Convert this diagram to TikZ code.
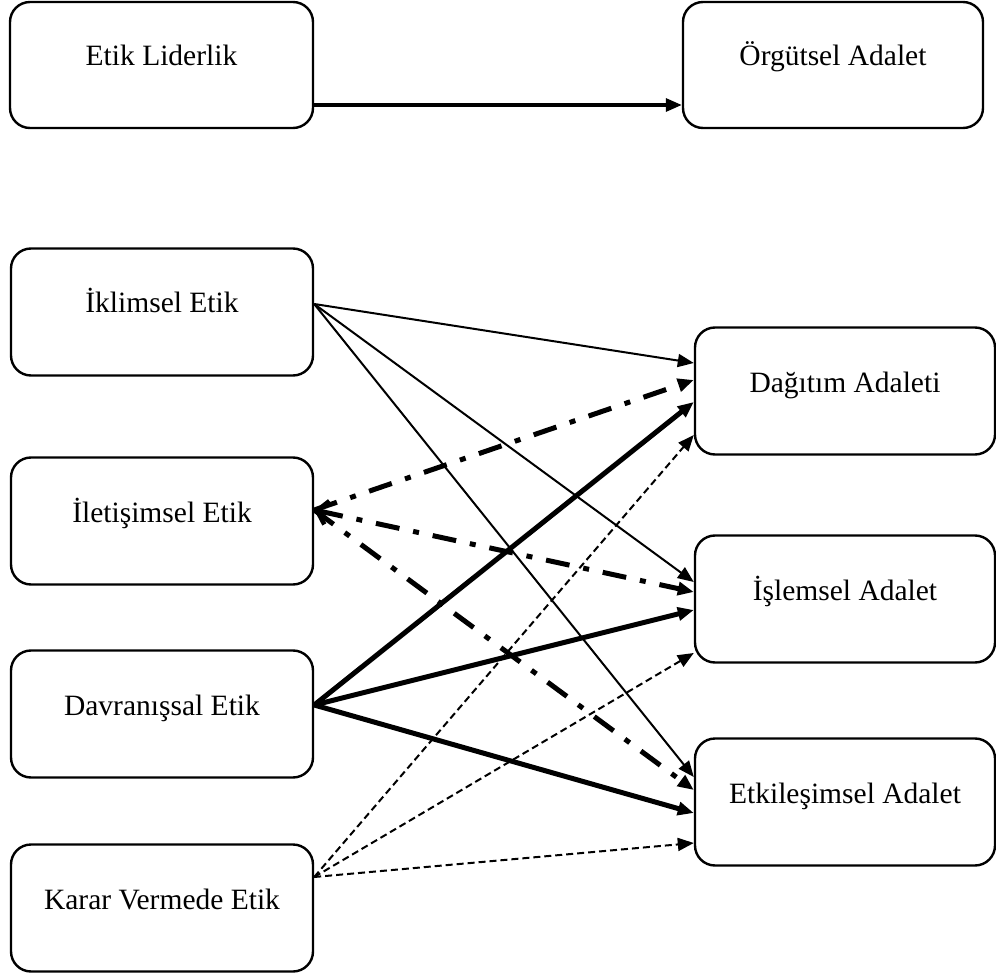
\documentclass[tikz,border=0pt]{standalone}
\usepackage{fontspec}
\setmainfont{Liberation Serif}
\usetikzlibrary{arrows.meta}
\tikzset{
  x=1pt, y=-1pt,
  box/.style={draw, line width=2.4pt, rounded corners=20pt, inner sep=0pt, minimum height=127pt},
  lbox/.style={box, minimum width=302pt},
  rbox/.style={box, minimum width=300pt},
  boxtext/.style={anchor=base, inner sep=0pt, font=\fontsize{29.5}{34}\selectfont},
  tip/.style={-{Triangle[length=16pt,width=13pt]}},
  thinarr/.style={tip, line width=2pt},
  thickarr/.style={tip, line width=5pt},
  dasharr/.style={tip, line width=2pt, dash pattern=on 7pt off 4pt},
  dotdasharr/.style={tip, line width=5pt, dash pattern=on 24pt off 14pt on 6pt off 14pt},
  mainarr/.style={tip, line width=3.2pt},
}
\begin{document}
\begin{tikzpicture}
\useasboundingbox (0,0) rectangle (996,973);
% top row
\node[box, minimum width=303pt, minimum height=126pt] (etik) at (161.5,65) {};
\node[box, minimum width=300pt, minimum height=126pt] (orgut) at (833,65) {};
\node[boxtext, yshift=-1pt] (etikt) at (etik.center) {Etik Liderlik};
\node[boxtext, yshift=-1pt] (orgutt) at (orgut.center) {Örgütsel Adalet};
% left column
\node[lbox] (ikl) at (162,312) {};
\node[lbox] (ilet) at (162,521) {};
\node[lbox] (davr) at (162,714) {};
\node[lbox] (karar) at (162,908) {};
\node[boxtext, yshift=-1pt] (iklt) at (ikl.center) {İklimsel Etik};
\node[boxtext, yshift=-1pt] (iletx) at (ilet.center) {İletişimsel Etik};
\node[boxtext, yshift=-1pt] (davrt) at (davr.center) {Davranışsal Etik};
\node[boxtext, yshift=-1pt] (karart) at (karar.center) {Karar Vermede Etik};
% right column
\node[rbox] (dag) at (845,391) {};
\node[rbox] (isl) at (845,599) {};
\node[rbox] (etk) at (845,802) {};
\node[boxtext, yshift=-1pt] (dagt) at (dag.center) {Dağıtım Adaleti};
\node[boxtext, yshift=-1pt] (islt) at (isl.center) {İşlemsel Adalet};
\node[boxtext, yshift=-1pt] (etkt) at (etk.center) {Etkileşimsel Adalet};
% top arrow
\draw[mainarr] ([yshift=-40pt]etik.east) -- ([yshift=-40pt]orgut.west);
% iklimsel (thin solid)
\draw[thinarr] ([yshift=8pt]ikl.east) -- ([yshift=28pt]dag.west);
\draw[thinarr] ([yshift=8pt]ikl.east) -- ([yshift=17pt]isl.west);
\draw[thinarr] ([yshift=8pt]ikl.east) -- ([yshift=25pt]etk.west);
% iletisimsel (thick dash-dot)
\draw[dotdasharr] ([yshift=11pt]ilet.east) -- ([yshift=11pt]dag.west);
\draw[dotdasharr, {Straight Barb[length=10pt,width=24pt,line width=4.5pt]}-{Triangle[length=16pt,width=13pt]}] ([yshift=11pt]ilet.east) -- ([yshift=7pt]isl.west);
\draw[dotdasharr] ([yshift=11pt]ilet.east) -- ([yshift=12pt]etk.west);
% davranissal (thick solid)
\draw[thickarr] ([yshift=9pt]davr.east) -- ([yshift=-11pt]dag.west);
\draw[thickarr] ([yshift=9pt]davr.east) -- ([yshift=-11pt]isl.west);
\draw[thickarr] ([yshift=9pt]davr.east) -- ([yshift=-11pt]etk.west);
% karar vermede (thin dashed)
\draw[dasharr] ([yshift=31pt]karar.east) -- ([yshift=-44pt]dag.west);
\draw[dasharr] ([yshift=31pt]karar.east) -- ([yshift=-54pt]isl.west);
\draw[dasharr] ([yshift=31pt]karar.east) -- ([yshift=-41pt]etk.west);
\end{tikzpicture}
\end{document}
